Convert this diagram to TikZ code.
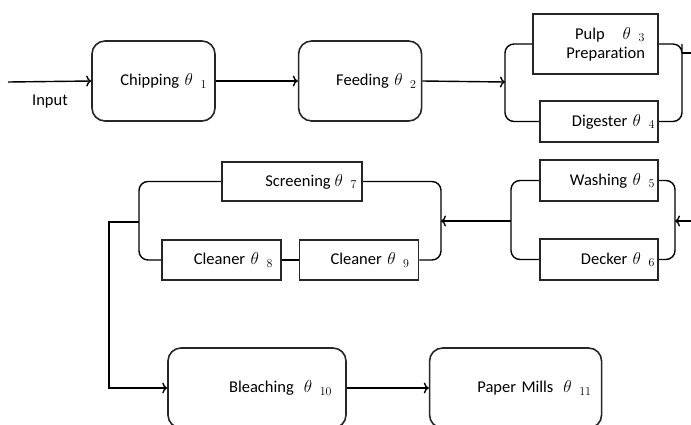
\documentclass[tikz,border=0pt]{standalone}
\usepackage{fontspec}
\setmainfont{Carlito}[Ligatures=NoCommon]
\usepackage{tikz}
\usetikzlibrary{positioning, arrows.meta}

\newcommand{\thet}[1]{$\theta_{\hspace{8pt}#1}$}

\begin{document}
\begin{tikzpicture}[x=1pt, y=-1pt, line width=1.4pt, >={To[length=5pt, width=11pt]}, font=\fontsize{16.5}{19}\selectfont, stage/.style={rectangle, draw=black!85, line width=1.6pt, rounded corners=13pt, minimum height=80pt, inner ysep=0pt, align=right}, unit/.style={rectangle, draw=black!85, line width=1.6pt, inner ysep=0pt, align=right}]

    \useasboundingbox (0,0) rectangle (691,424);

    % Nodes
    \node[stage, text width=107pt, inner xsep=8pt]  (chipping)   at (153.5,81)          {Chipping \thet{1}};
    \node[stage, text width=113pt, inner xsep=5pt]  (feeding)    [right=82pt of chipping] {Feeding \thet{2}};
    \node[unit, text width=99pt, inner xsep=13pt, minimum height=60pt] (pulp) at (595.5,44) {Pulp\hspace{18pt}\thet{3}\\Preparation\hspace*{7pt}};
    \node[unit, text width=112pt, inner xsep=3pt, minimum height=41pt] (digester) at (599,121.5) {Digester \thet{4}};
    \node[unit, text width=112pt, inner xsep=3pt, minimum height=41pt] (washing)  at (599,180.5) {Washing \thet{5}};
    \node[unit, text width=112pt, inner xsep=3pt, minimum height=41pt] (decker)   at (599,259.5) {Decker \thet{6}};
    \node[unit, text width=130pt, inner xsep=5pt, minimum height=39pt] (screening) at (292,181.5) {Screening\hspace{4pt}\thet{7}};
    \node[unit, text width=103pt, inner xsep=8pt, minimum height=40pt] (cleanera)  at (221.5,260) {Cleaner \thet{8}};
    \node[unit, text width=101pt, inner xsep=9pt, minimum height=40pt] (cleanerb)  [right=17pt of cleanera] {Cleaner \thet{9}};
    \node[stage, text width=150pt, inner xsep=14pt] (bleaching)  at (257,388)           {Bleaching\hspace{10pt}\thet{10}\hspace*{25pt}};
    \node[stage, text width=152pt, inner xsep=10pt] (papermills) [right=82pt of bleaching] {Paper Mills\hspace{10pt}\thet{11}\hspace*{7pt}};
    \node (input) at (50,102) {Input};

    \coordinate (start)   at (8,82);
    \coordinate (g1in)    at (505,82);
    \coordinate (g1out)   at (682,53);
    \coordinate (g1exit)  at (696,53);
    \coordinate (g2entry) at (696,221);
    \coordinate (g2in)    at (675,221);
    \coordinate (g2out)   at (511,221);
    \coordinate (g3in)    at (441,221);
    \coordinate (g3out)   at (139,222);
    \coordinate (bend)    at (109,222);

    % Lines ---------------
    \draw[->] (start) -- (chipping.west);
    \draw[->] (chipping.east) -- (feeding.west);
    \draw[->] (feeding.east) -- (g1in);
    \draw[rounded corners=9pt] (pulp.west) -| (g1in) |- (digester.west);
    \draw[rounded corners=9pt] (pulp.east) -| (g1out) |- (digester.east);
    \draw (g1out) -- (g1exit);

    \draw[->] (g2entry) -- (g2in);
    \draw[rounded corners=9pt] (washing.east) -| (g2in) |- (decker.east);
    \draw[rounded corners=9pt] (washing.west) -| (g2out) |- (decker.west);
    \draw[->] (g2out) -- (g3in);

    \draw[rounded corners=9pt] (screening.east) -| (g3in) |- (cleanerb.east);
    \draw[rounded corners=9pt] (screening.west) -| (g3out) |- (cleanera.west);
    \draw (cleanera.east) -- (cleanerb.west);
    \draw[->] (g3out) -- (bend) |- (bleaching.west);
    \draw[->] (bleaching.east) -- (papermills.west);

\end{tikzpicture}
\end{document}
